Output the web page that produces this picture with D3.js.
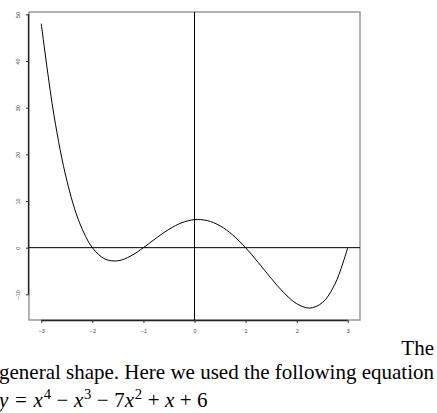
<!DOCTYPE html>
<html>
<head>
<meta charset="utf-8">
<script src="https://cdn.jsdelivr.net/npm/d3@7"></script>
<style>
  html, body { margin: 0; padding: 0; background: #fff; overflow: hidden; }
  svg { display: block; }
</style>
</head>
<body>
<svg id="chart" width="437" height="413"></svg>
<script>
// Sample points of y = x^4 - x^3 - 7x^2 + x + 6 on [-3, 3]
const xValues = [-3, -2.75, -2.5, -2.25, -2, -1.75, -1.5, -1.25, -1, -0.75, -0.5, -0.25,
                 0, 0.25, 0.5, 0.75, 1, 1.25, 1.5, 1.75, 2, 2.25, 2.5, 2.75, 3];
const yValues = [48, 28.3008, 14.4375, 5.3320, 0, -2.4492, -2.8125, -1.7930, 0, 2.0508, 3.9375, 5.3320,
                 6, 5.8008, 4.6875, 2.7070, 0, -3.1992, -6.5625, -9.6680, -12, -12.9492, -11.8125, -7.7930, 0];
const xTicks = [-3, -2, -1, 0, 1, 2, 3];
const yTicks = [-10, 0, 10, 20, 30, 40, 50];

const svg = d3.select("#chart");
const box = { left: 29, right: 360, top: 12, bottom: 320 };

const x = d3.scaleLinear().domain([-3.24, 3.24]).range([box.left, box.right]);
const y = d3.scaleLinear().domain([-15.5, 50.5]).range([box.bottom, box.top]);

// plot frame
svg.append("rect")
  .attr("x", box.left).attr("y", box.top)
  .attr("width", box.right - box.left).attr("height", box.bottom - box.top)
  .attr("fill", "none").attr("stroke", "#8a8a8a").attr("stroke-width", 1.3);

const minus = d => d3.format("d")(d).replace("-", "\u2212");
const tickFont = "Liberation Sans, Arial, sans-serif";

// axes
const xAxis = svg.append("g")
  .attr("transform", `translate(0,${box.bottom})`)
  .call(d3.axisBottom(x).tickValues(xTicks).tickSize(3).tickSizeOuter(0).tickFormat(minus));
xAxis.select(".domain").attr("d", `M${x(-3)},0.5H${x(3)}`).attr("stroke", "#222").attr("stroke-width", 1.3);
xAxis.selectAll(".tick line").attr("stroke", "#333");
xAxis.selectAll(".tick text")
  .attr("y", 11).attr("dy", null).attr("dominant-baseline", "central")
  .attr("font-family", tickFont).attr("font-size", 5.5).attr("fill", "#444");

const yAxis = svg.append("g")
  .attr("transform", `translate(${box.left},0)`)
  .call(d3.axisLeft(y).tickValues(yTicks).tickSize(3).tickSizeOuter(0).tickFormat(minus));
yAxis.select(".domain").attr("d", `M-0.5,${y(-10)}V${y(50)}`).attr("stroke", "#222").attr("stroke-width", 1.3);
yAxis.selectAll(".tick line").attr("stroke", "#333");
yAxis.selectAll(".tick text")
  .attr("x", null).attr("dy", null)
  .attr("text-anchor", "middle").attr("dominant-baseline", "central")
  .attr("transform", "translate(-11.5,0) rotate(-90)")
  .attr("font-family", tickFont).attr("font-size", 5.5).attr("fill", "#444");

// reference lines through the origin
svg.append("line")
  .attr("x1", box.left).attr("x2", box.right).attr("y1", y(0)).attr("y2", y(0))
  .attr("stroke", "#000").attr("stroke-width", 1);
svg.append("line")
  .attr("x1", x(0)).attr("x2", x(0)).attr("y1", box.top).attr("y2", box.bottom)
  .attr("stroke", "#000").attr("stroke-width", 1);

// the curve
const pts = xValues.map((v, i) => [v, yValues[i]]);
svg.append("path")
  .datum(pts)
  .attr("fill", "none").attr("stroke", "#000").attr("stroke-width", 1)
  .attr("d", d3.line().x(d => x(d[0])).y(d => y(d[1])).curve(d3.curveCatmullRom.alpha(0.5)));

// body text beneath the figure
const serif = "Liberation Serif, Times New Roman, serif";
const fs = 21;
svg.append("text")
  .attr("x", 434).attr("y", 355).attr("text-anchor", "end")
  .attr("font-family", serif).attr("font-size", fs).text("The");
svg.append("text")
  .attr("x", -1).attr("y", 379)
  .attr("font-family", serif).attr("font-size", fs)
  .attr("textLength", 435).attr("lengthAdjust", "spacing")
  .text("general shape. Here we used the following equation");

// equation, with math spacing around relations and binary operators
const eq = svg.append("text")
  .attr("x", -1).attr("y", 407)
  .attr("font-family", serif).attr("font-size", fs);
const tokens = [
  ["y", "i", 0], ["=", "n", 0.32], ["x", "i", 0.32], ["4", "s", 0.04],
  ["\u2212", "n", 0.26], ["x", "i", 0.26], ["3", "s", 0.04],
  ["\u2212", "n", 0.26], ["7", "n", 0.26], ["x", "i", 0], ["2", "s", 0.04],
  ["+", "n", 0.26], ["x", "i", 0.26], ["+", "n", 0.26], ["6", "n", 0.26]
];
const rise = fs * 0.36;
let raised = false;
tokens.forEach(([t, k, gap]) => {
  const ts = eq.append("tspan").text(t).attr("dx", (gap * fs).toFixed(2));
  if (k === "i") ts.attr("font-style", "italic");
  if (k === "s") {
    ts.attr("font-size", fs * 0.7).attr("dy", -rise);
    raised = true;
  } else if (raised) {
    ts.attr("dy", rise);
    raised = false;
  }
});
</script>
</body>
</html>
